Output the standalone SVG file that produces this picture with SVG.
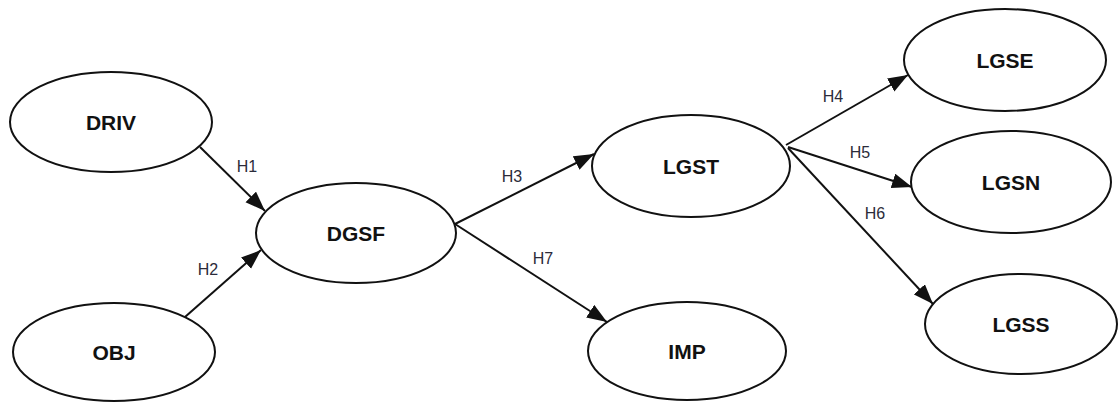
<svg xmlns="http://www.w3.org/2000/svg" width="1119" height="402" viewBox="0 0 1119 402">
<style>
.node ellipse{fill:#fff;stroke:#111;stroke-width:2}
.node text{font-family:"Liberation Sans",Arial,sans-serif;font-weight:bold;font-size:21px;fill:#111;text-anchor:middle}
.conn line{stroke:#111;stroke-width:2}
.lbl{font-family:"Liberation Sans",Arial,sans-serif;font-size:16px;fill:#2b2b3a;text-anchor:middle}
</style>
<defs>
<marker id="ah" markerUnits="userSpaceOnUse" markerWidth="22" markerHeight="16" refX="20" refY="7.5" orient="auto">
<path d="M0,0 L20,7.5 L0,15 z" fill="#111"/>
</marker>
</defs>
<rect width="1119" height="402" fill="#fff"/>
<g id="connectors" class="conn">
<line x1="200" y1="147" x2="265" y2="211" marker-end="url(#ah)"/>
<line x1="185" y1="317" x2="261" y2="250" marker-end="url(#ah)"/>
<line x1="455" y1="224" x2="594" y2="154" marker-end="url(#ah)"/>
<line x1="455" y1="224" x2="607" y2="322" marker-end="url(#ah)"/>
<line x1="786" y1="145" x2="908" y2="75" marker-end="url(#ah)"/>
<line x1="788" y1="147" x2="912" y2="187" marker-end="url(#ah)"/>
<line x1="788" y1="148" x2="933" y2="304" marker-end="url(#ah)"/>
<text class="lbl" x="247" y="172">H1</text>
<text class="lbl" x="208" y="275">H2</text>
<text class="lbl" x="512" y="182">H3</text>
<text class="lbl" x="543" y="264">H7</text>
<text class="lbl" x="833" y="102">H4</text>
<text class="lbl" x="860" y="158">H5</text>
<text class="lbl" x="875" y="219">H6</text>
</g>
<g id="DRIV" class="node"><ellipse cx="111" cy="122" rx="101" ry="50"/><text x="111" y="130">DRIV</text></g>
<g id="OBJ" class="node"><ellipse cx="114" cy="352" rx="101" ry="49"/><text x="114" y="360">OBJ</text></g>
<g id="DGSF" class="node"><ellipse cx="356" cy="233" rx="100" ry="50"/><text x="356" y="241">DGSF</text></g>
<g id="LGST" class="node"><ellipse cx="691" cy="166" rx="99" ry="51"/><text x="691" y="174">LGST</text></g>
<g id="IMP" class="node"><ellipse cx="687" cy="351" rx="99" ry="49"/><text x="687" y="359">IMP</text></g>
<g id="LGSE" class="node"><ellipse cx="1005" cy="60" rx="101" ry="51"/><text x="1005" y="68">LGSE</text></g>
<g id="LGSN" class="node"><ellipse cx="1011" cy="182" rx="100" ry="51"/><text x="1011" y="190">LGSN</text></g>
<g id="LGSS" class="node"><ellipse cx="1021" cy="324" rx="96" ry="50"/><text x="1021" y="332">LGSS</text></g>
</svg>
